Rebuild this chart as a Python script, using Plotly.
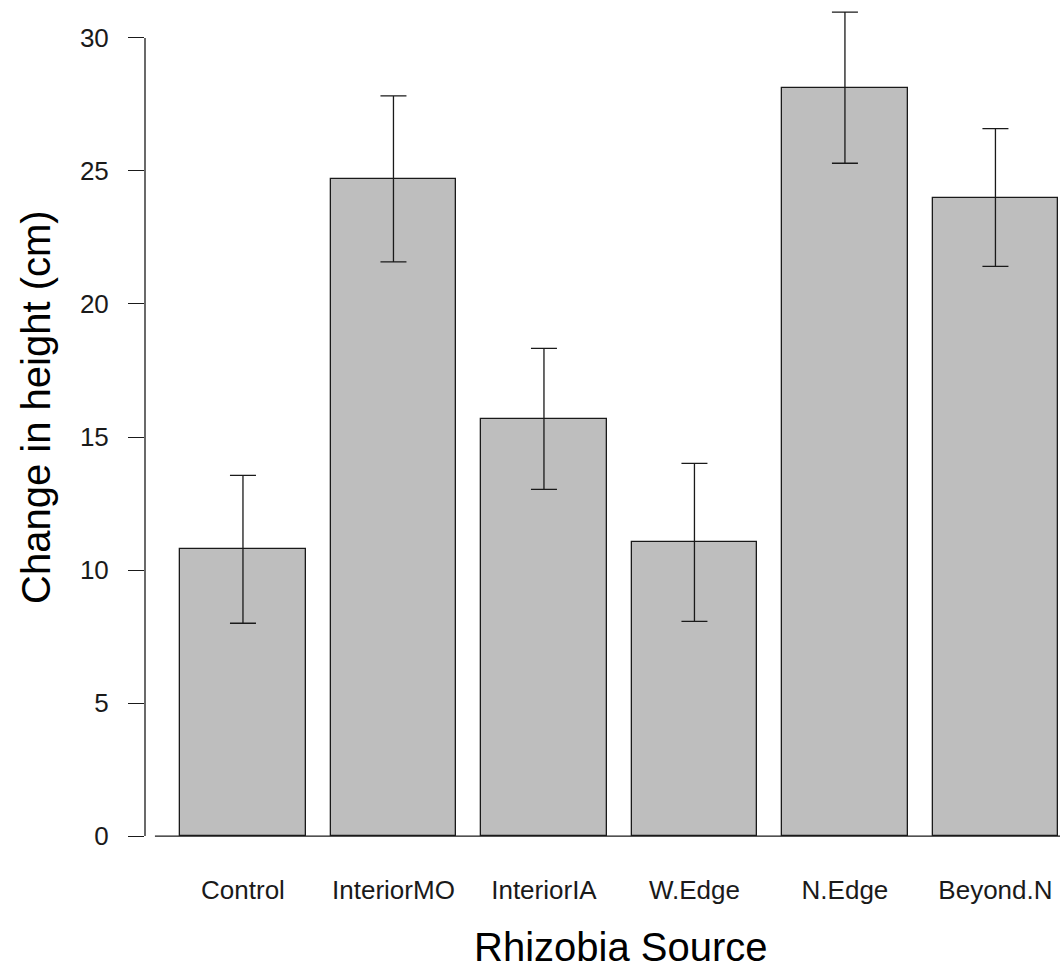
import plotly.graph_objects as go

# Mean change in plant height by rhizobia source, with error bars
sources = ["Control", "InteriorMO", "InteriorIA", "W.Edge", "N.Edge", "Beyond.N"]
mean_height = [10.78, 24.70, 15.68, 11.04, 28.13, 24.00]
err_height = [2.78, 3.12, 2.65, 2.97, 2.84, 2.59]
y_ticks = [0, 5, 10, 15, 20, 25, 30]

FONT = "Liberation Sans, Arial, sans-serif"
INK = "#1a1a1a"

fig = go.Figure()
fig.add_trace(go.Bar(
    x=sources,
    y=mean_height,
    width=1 / 1.2,
    marker=dict(color="#bebebe", line=dict(color=INK, width=1.3)),
    error_y=dict(type="data", array=err_height, visible=True,
                 color=INK, thickness=1.3, width=13),
    showlegend=False,
))

# y axis line spanning only the labelled ticks
fig.add_shape(type="line", xref="paper", yref="y",
              x0=0, x1=0, y0=y_ticks[0], y1=y_ticks[-1],
              line=dict(color=INK, width=1.3))
# base line under the bars
fig.add_shape(type="line", xref="x", yref="y",
              x0=-0.585, x1=6, y0=0, y1=0,
              line=dict(color=INK, width=1.3))

fig.add_annotation(text="Change in height (cm)", textangle=-90,
                   xref="paper", yref="paper", x=-0.119, y=0.535,
                   xanchor="center", yanchor="middle", showarrow=False,
                   font=dict(family=FONT, size=40, color="#000000"))
fig.add_annotation(text="Rhizobia Source",
                   xref="paper", yref="paper", x=0.52, y=-0.092,
                   xanchor="center", yanchor="middle", showarrow=False,
                   font=dict(family=FONT, size=40, color="#000000"))

fig.update_layout(
    width=1060, height=970,
    margin=dict(l=145, r=0, t=6, b=102),
    paper_bgcolor="white", plot_bgcolor="white",
    font=dict(family=FONT, size=26, color=INK),
    xaxis=dict(type="category", range=[-0.651, 5.429],
               showline=False, showgrid=False, zeroline=False,
               ticks="", tickfont=dict(size=26, color=INK),
               ticklabelstandoff=4),
    yaxis=dict(range=[-1.2, 31.2], tickvals=y_ticks,
               showline=False, showgrid=False, zeroline=False,
               ticks="outside", ticklen=16, tickwidth=1.3, tickcolor=INK,
               tickfont=dict(size=26, color=INK), ticklabelstandoff=14),
    bargap=0,
)

fig.write_html("out.html")
